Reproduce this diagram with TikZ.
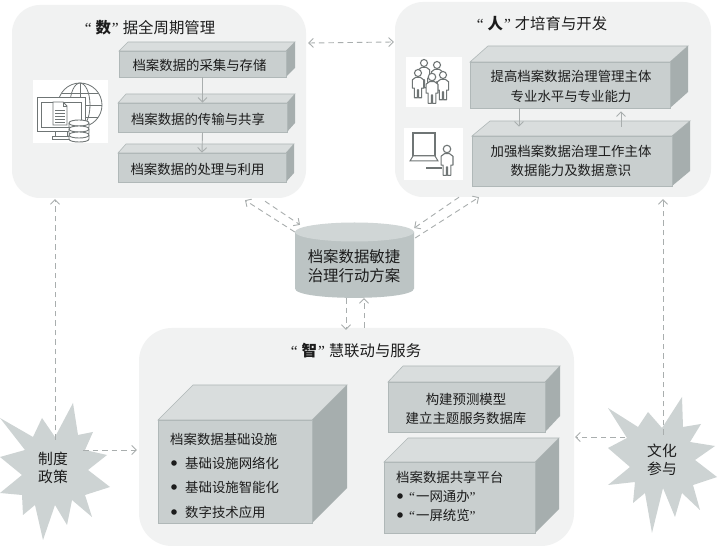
\documentclass[tikz,border=0pt]{standalone}
\usepackage{fontspec}
\setmainfont{Noto Sans CJK SC}
\newfontfamily\qf{Liberation Serif}
\usetikzlibrary{arrows.meta}
\definecolor{panelc}{HTML}{F1F2F2}
\definecolor{frontc}{HTML}{C9CFCF}
\definecolor{topc}{HTML}{D9DDDD}
\definecolor{sidec}{HTML}{A6AEAE}
\definecolor{edgec}{HTML}{B0B8B8}
\definecolor{cylc}{HTML}{BCC4C4}
\definecolor{cyltop}{HTML}{D0D6D6}
\definecolor{starc}{HTML}{CDD3D3}
\definecolor{linkc}{HTML}{A9AEAE}
\definecolor{inkc}{HTML}{1C1C1C}
\definecolor{iconc}{HTML}{6F7575}
\newcommand{\lqm}{{\qf\symbol{"201C}}}
\newcommand{\rqm}{{\qf\symbol{"201D}}}
\newcommand{\cuboid}[7]{%
  \fill[topc,draw=edgec,line width=.6pt] (#2,#3) -- ({#2+#6},{#3-#7}) -- ({#4+#6},{#3-#7}) -- (#4,#3) -- cycle;
  \fill[sidec] (#4,#3) -- ({#4+#6},{#3-#7}) -- ({#4+#6},{#5-#7}) -- (#4,#5) -- cycle;
  \node[frontbox,minimum width={(#4-#2)*1pt},minimum height={(#5-#3)*1pt}] (#1) at ({(#2+#4)/2},{(#3+#5)/2}) {};
}
\newcommand{\person}[3]{%
  \begin{scope}[shift={(#1,#2)},scale=#3]
  \draw[iconc,fill=white,line width=1.1pt] (0,0) circle (4.4);
  \draw[iconc,fill=white,line width=1.1pt,line join=round] (-3,5.5) -- (3,5.5) -- (7,8.5) -- (7,19) -- (4.5,19) -- (4.5,31) -- (.6,31) -- (.6,21) -- (-.6,21) -- (-.6,31) -- (-4.5,31) -- (-4.5,19) -- (-7,19) -- (-7,8.5) -- cycle;
  \end{scope}
}
\newcommand{\drum}[3]{%
  \draw[iconc,fill=white,line width=.9pt] ({#1-10},#2) .. controls ({#1-10},{#2-4}) and ({#1+10},{#2-4}) .. ({#1+10},#2) -- ({#1+10},{#2+#3}) .. controls ({#1+10},{#2+#3+4}) and ({#1-10},{#2+#3+4}) .. ({#1-10},{#2+#3}) -- cycle;
  \draw[iconc,line width=.9pt] ({#1-10},#2) .. controls ({#1-10},{#2+4}) and ({#1+10},{#2+4}) .. ({#1+10},#2);
}
\tikzset{
  x=1pt,y=-1pt,
  panel/.style={fill=panelc,rounded corners=#1,inner sep=0pt},
  panel/.default=28pt,
  frontbox/.style={fill=frontc,draw=edgec,line width=.7pt,inner sep=0pt},
  boxtext/.style={text=inkc,font=\fontsize{13.4}{19.5}\selectfont,align=center,inner sep=0pt},
  leftext/.style={boxtext,anchor=west},
  titletext/.style={text=inkc,font=\fontsize{15.4}{19}\selectfont,inner sep=0pt},
  startext/.style={text=inkc,font=\fontsize{14.8}{18}\selectfont,align=center,inner sep=0pt},
  link/.style={linkc,line width=.9pt,dash pattern=on 5.5pt off 4pt,{Straight Barb[length=4.5pt,width=9pt]}-{Straight Barb[length=4.5pt,width=9pt]}},
  linkto/.style={linkc,line width=.9pt,dash pattern=on 5.5pt off 4pt,-{Straight Barb[length=4.5pt,width=9pt]}},
  solidto/.style={linkc,line width=.9pt,-{Straight Barb[length=4.5pt,width=9pt]}},
  bulletdot/.style={fill=inkc},
  iconline/.style={iconc,line width=.8pt},
}
\begin{document}
\begin{tikzpicture}
\useasboundingbox (0,0) rectangle (724,553);
\fill[white] (0,0) rectangle (724,553);

% panels
\node[panel,minimum width=294pt,minimum height=193pt] (pA) at (159,101.5) {};
\node[panel,minimum width=316pt,minimum height=195pt] (pB) at (553,99.5) {};
\node[panel=33pt,minimum width=435pt,minimum height=218pt] (pC) at (356.5,437) {};

\node[titletext] (tA) at (150,28) {\lqm\hspace{4pt}{\bfseries 数}\hspace{1pt}\rqm\hspace{4pt}据全周期管理};
\node[titletext] (tB) at (542,24) {\lqm\hspace{4pt}{\bfseries 人}\hspace{1pt}\rqm\hspace{4pt}才培育与开发};
\node[titletext] (tC) at (356,351) {\lqm\hspace{4pt}{\bfseries 智}\hspace{1pt}\rqm\hspace{4pt}慧联动与服务};

% panel A boxes
\cuboid{a1}{119}{51}{286}{77}{9}{9}
\cuboid{a2}{118}{103}{287}{132}{8}{9}
\cuboid{a3}{118}{153}{286}{182}{8}{9}
\node[boxtext] (la1) at (199.5,65) {档案数据的采集与存储};
\node[boxtext] (la2) at (198,119) {档案数据的传输与共享};
\node[boxtext] (la3) at (197.5,169) {档案数据的处理与利用};
\draw[solidto] (a1.south) -- (a2.north);
\draw[solidto] (a2.south) -- (a3.north);

% panel B boxes
\cuboid{b1}{470}{62}{670}{108}{18}{16}
\cuboid{b2}{472}{136}{672}{186}{18}{15}
\node[boxtext] (lb1) at (571,86.5) {提高档案数据治理管理主体\\专业水平与专业能力};
\node[boxtext] (lb2) at (571,161) {加强档案数据治理工作主体\\数据能力及数据意识};
\draw[solidto] ([xshift=-51]b1.south) -- ([xshift=-53,yshift=9]b2.north);
\draw[solidto] ([xshift=49,yshift=9]b2.north) -- ([xshift=51,yshift=-3]b1.south);

% panel C boxes
\cuboid{c1}{158}{420}{312}{523}{35}{35}
\cuboid{c2}{388}{382}{545}{432}{15}{16}
\cuboid{c3}{384}{462}{535}{533}{24}{24}
\node[boxtext] (lc2) at (466,409) {构建预测模型\\建立主题服务数据库};
\node[leftext] (lc10) at (170,439) {档案数据基础设施};
\node[leftext] (lc11) at (185,463) {基础设施网络化};
\node[leftext] (lc12) at (185,487) {基础设施智能化};
\node[leftext] (lc13) at (185,512) {数字技术应用};
\fill[bulletdot] (174,463) circle (2.8) (174,487) circle (2.8) (174,512) circle (2.8);
\node[leftext] (lc30) at (396,477) {档案数据共享平台};
\node[leftext] (lc31) at (409,496) {\lqm\hspace{1pt}一网通办\rqm};
\node[leftext] (lc32) at (409,515) {\lqm\hspace{1pt}一屏统览\rqm};
\fill[bulletdot] (400,496) circle (2.8) (400,515) circle (2.8);

% cylinder
\fill[cylc] (295,232) -- (295,288.5) .. controls (295,301) and (414,301) .. (414,288.5) -- (414,232) -- cycle;
\fill[cyltop] (354.5,232) ellipse (59.5 and 9.5);
\node[inner sep=0pt,minimum width=119pt,minimum height=75pt] (cyl) at (354.5,260.5) {};
\node[boxtext,font=\fontsize{15.4}{18.5}\selectfont] (lcyl) at (354,266) {档案数据敏捷\\治理行动方案};

% stars
\fill[starc] (0,418) -- (33,437) -- (42,418) -- (55,437) -- (73,403) -- (78,435) -- (93,432) -- (85,450) -- (107,455) -- (88,470) -- (110,487) -- (85,495) -- (92,517) -- (72,500) -- (67,525) -- (55,505) -- (43,540) -- (35,505) -- (23,515) -- (22,495) -- (0,493) -- (22,475) -- (0,457) -- (25,450) -- cycle;
\fill[starc] (608,408) -- (638,427) -- (648,412) -- (662,428) -- (682,397) -- (683,427) -- (701,424) -- (690,442) -- (715,446) -- (695,460) -- (717,477) -- (693,485) -- (700,510) -- (682,493) -- (675,517) -- (663,488) -- (652,533) -- (645,493) -- (633,503) -- (635,482) -- (608,485) -- (630,467) -- (608,448) -- (627,438) -- cycle;
\node[startext] (sL) at (53,468) {制度\\政策};
\node[startext] (sR) at (662,459.5) {文化\\参与};

% connectors
\draw[link] ([shift={(2,-58.5)}]pA.east) -- ([shift={(-1,-57.5)}]pB.west);
\draw[linkto] ([shift={(106,3)}]pA.south) -- ([shift={(-54.5,2)}]cyl.north);
\draw[linkto] ([shift={(0,-28.5)}]cyl.west) -- ([shift={(86,2)}]pA.south);
\draw[linkto] ([shift={(-94,0)}]pB.south) -- ([shift={(0,-32.5)}]cyl.east);
\draw[linkto] ([shift={(1,-22.5)}]cyl.east) -- ([shift={(-74,0)}]pB.south);
\draw[linkto] ([shift={(-8.5,0)}]cyl.south) -- ([shift={(-10.5,2)}]pC.north);
\draw[linkto] ([shift={(7.5,0)}]pC.north) -- ([shift={(9.5,0)}]cyl.south);
\draw[linkto] ([shift={(2,-28)}]sL.center) -- ([shift={(-104,1)}]pA.south);
\draw[linkto] ([shift={(30,-18)}]sL.center) -- ([shift={(-2,13)}]pC.west);
\draw[linkto] ([shift={(-37,-22.5)}]sR.center) -- ([shift={(1,0)}]pC.east);
\draw[linkto] ([shift={(1,-24.5)}]sR.center) -- ([shift={(110,2)}]pB.south);

% icon 1: globe, monitor, database
\fill[white] (33,80) rectangle (108,143);
\draw[iconline] (80,105) circle (22);
\draw[iconline] (80,105) ellipse (10 and 22);
\draw[iconline] (58,105) -- (102,105) (80,83) -- (80,127) (62,93) -- (98,93) (62,117) -- (98,117);
\draw[iconc,fill=white,line width=1pt] (37,98) rectangle (85,132);
\draw[iconline] (41,102) rectangle (81,127);
\draw[iconline] (55,132) -- (55,136) (67,132) -- (67,136) (52,136) rectangle (72,139);
\draw[iconc,fill=white,line width=.8pt] (53,102) -- (63,102) -- (67,106) -- (67,125) -- (53,125) -- cycle;
\draw[iconline] (63,102) -- (63,106) -- (67,106) (55,110) -- (65,110) (55,113) -- (65,113) (55,116) -- (65,116) (55,119) -- (65,119) (55,122) -- (65,122);
\drum{79}{123}{4}
\drum{79}{129}{4}
\drum{79}{135}{4}

% icon 2: people
\fill[white] (406,57) rectangle (462,107);
\person{424}{63}{.8}
\person{437}{65}{.8}
\person{418}{73}{.8}
\person{443}{75}{.8}
\person{432}{77}{.85}

% icon 3: laptop and person
\fill[white] (404,128) rectangle (463,180);
\draw[iconc,line width=1.4pt,fill=white] (413,133) rectangle (435,156);
\draw[iconc,fill=white,line width=1pt] (413,156) -- (435,156) -- (438,161) -- (410,161) -- cycle;
\draw[iconc,line width=1.3pt] (426,168) -- (442,168);
\person{447}{149}{.85}
\end{tikzpicture}
\end{document}
